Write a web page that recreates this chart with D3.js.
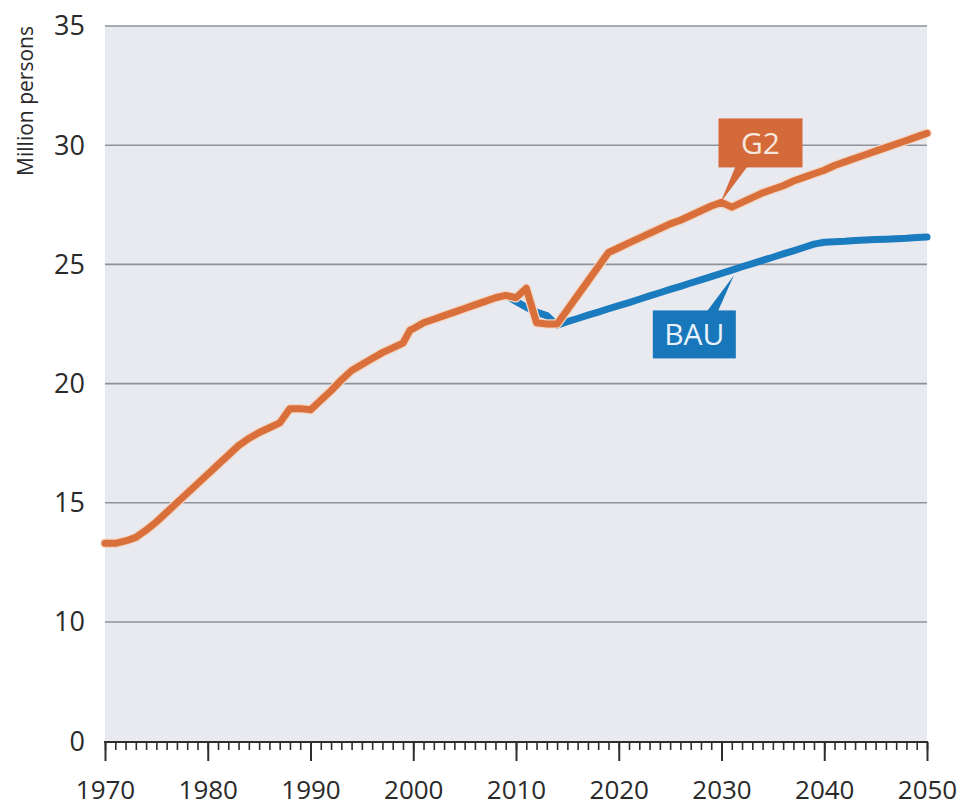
<!DOCTYPE html>
<html><head><meta charset="utf-8">
<script src="https://cdn.jsdelivr.net/npm/d3@7"></script>
<style>
html,body{margin:0;padding:0;background:#fff;}
svg{display:block;}
text{font-family:"Open Sans","Noto Sans",sans-serif;}
</style></head>
<body>
<svg id="chart" width="963" height="807"></svg>
<script>
// ---- data ----
const g2Years = [1970,1971,1972,1973,1974,1975,1976,1977,1978,1979,1980,1981,1982,1983,1984,1985,1986,1987,1988,1989,1990,1991,1992,1993,1994,1995,1996,1997,1998,1999,1999.7,2000,2001,2002,2003,2004,2005,2006,2007,2008,2009,2010,2011,2012,2013,2014,2015,2016,2017,2018,2019,2020,2021,2022,2023,2024,2025,2026,2027,2028,2029,2030,2031,2032,2033,2034,2035,2036,2037,2038,2039,2040,2041,2042,2043,2044,2045,2046,2047,2048,2049,2050];
const g2Values = [13.3,13.3,13.4,13.55,13.85,14.2,14.6,15.0,15.4,15.8,16.2,16.6,17.0,17.4,17.7,17.95,18.15,18.35,18.95,18.95,18.9,19.3,19.7,20.15,20.55,20.8,21.05,21.3,21.5,21.7,22.25,22.3,22.55,22.7,22.85,23.0,23.15,23.3,23.45,23.6,23.7,23.6,24.0,22.55,22.5,22.5,23.1,23.7,24.3,24.9,25.5,25.7,25.9,26.1,26.3,26.5,26.7,26.85,27.05,27.25,27.45,27.6,27.4,27.6,27.8,28.0,28.15,28.3,28.5,28.65,28.8,28.95,29.15,29.3,29.45,29.6,29.75,29.9,30.05,30.2,30.35,30.5];
const bauYears = [2009,2010,2011,2012,2013,2014,2015,2016,2017,2018,2019,2020,2021,2022,2023,2024,2025,2026,2027,2028,2029,2030,2031,2032,2033,2034,2035,2036,2037,2038,2039,2040,2041,2042,2043,2044,2045,2046,2047,2048,2049,2050];
const bauValues = [23.7,23.45,23.2,23.0,22.85,22.45,22.6,22.73,22.87,23.0,23.14,23.27,23.4,23.54,23.68,23.81,23.95,24.08,24.22,24.35,24.49,24.62,24.76,24.9,25.03,25.17,25.3,25.44,25.57,25.71,25.85,25.93,25.95,25.97,26.0,26.02,26.04,26.06,26.08,26.1,26.13,26.15];
const yTickValues = [0,10,15,20,25,30,35];
const yTickLabels = ["0","10","15","20","25","30","35"];
const xTickValues = [1970,1980,1990,2000,2010,2020,2030,2040,2050];
const xTickLabels = ["1970","1980","1990","2000","2010","2020","2030","2040","2050"];
const seriesNames = ["G2","BAU"];
const yTitle = "Million persons";
const g2LabelAt = 2030, bauLabelAt = 2031.2;

// ---- layout ----
const svg = d3.select("#chart");
const pLeft = 105, pRight = 927, pTop = 26, pBottom = 742;
const x = d3.scaleLinear().domain([1970, 2050]).range([pLeft, pRight]);
// truncated axis: 0 at baseline, 10..35 linear
const y = d3.scaleLinear().domain([0, 10, 35]).range([pBottom, 622, pTop]);

const orange = "#d96f3a", blue = "#1a7bbf";

svg.append("rect").attr("x", pLeft).attr("y", pTop).attr("width", pRight-pLeft).attr("height", pBottom-pTop).attr("fill", "#e8eaf0");

// gridlines
svg.append("g").selectAll("line").data(yTickValues.filter(v => v > 0)).join("line")
  .attr("x1", pLeft).attr("x2", pRight)
  .attr("y1", d => y(d)).attr("y2", d => y(d))
  .attr("stroke", "#8e929a").attr("stroke-width", 1.6);

// y labels
svg.append("g").selectAll("text").data(yTickValues).join("text")
  .attr("x", 85).attr("y", d => y(d)).attr("dy", "0.35em")
  .attr("text-anchor", "end").attr("font-size", 27).attr("fill", "#2a2a2a")
  .text((d, i) => yTickLabels[i]);

// y title
svg.append("text").attr("transform", "translate(33,101) rotate(-90)")
  .attr("text-anchor", "middle").attr("font-size", 21).attr("fill", "#2a2a2a").text(yTitle);

// x axis
const xAxisMinor = d3.axisBottom(x).tickValues(d3.range(1970, 2051, 1)).tickSize(8).tickFormat("");
const gMinor = svg.append("g").attr("transform", `translate(0,${pBottom})`).call(xAxisMinor);
gMinor.select(".domain").remove();
gMinor.selectAll("line").attr("stroke", "#2e2e2e").attr("stroke-width", 1.6);
const xAxisMajor = d3.axisBottom(x).tickValues(xTickValues).tickSize(19).tickPadding(20)
  .tickFormat((d, i) => xTickLabels[i]);
const gMajor = svg.append("g").attr("transform", `translate(0,${pBottom})`).call(xAxisMajor);
gMajor.select(".domain").remove();
gMajor.selectAll("line").attr("stroke", "#2e2e2e").attr("stroke-width", 2);
gMajor.selectAll("text").attr("font-size", 26).attr("fill", "#2a2a2a").attr("dy", "0.68em")
  .attr("font-family", "'Open Sans','Noto Sans',sans-serif");
svg.append("line").attr("x1", pLeft-1).attr("x2", pRight+1).attr("y1", pBottom).attr("y2", pBottom)
  .attr("stroke", "#2e2e2e").attr("stroke-width", 2.2);

// lines
const line = d3.line().x(d => x(d[0])).y(d => y(d[1])).curve(d3.curveLinear);
const bauData = bauYears.map((yr, i) => [yr, bauValues[i]]);
const g2Data = g2Years.map((yr, i) => [yr, g2Values[i]]);

svg.append("path").datum(bauData).attr("d", line).attr("fill", "none")
  .attr("stroke", blue).attr("stroke-width", 7).attr("stroke-linejoin", "round").attr("stroke-linecap", "round");
svg.append("path").datum(g2Data).attr("d", line).attr("fill", "none")
  .attr("stroke", "#f2d7c6").attr("stroke-width", 9.5).attr("stroke-linejoin", "round").attr("stroke-linecap", "round");
svg.append("path").datum(g2Data).attr("d", line).attr("fill", "none")
  .attr("stroke", orange).attr("stroke-width", 7).attr("stroke-linejoin", "round").attr("stroke-linecap", "round");

// callout labels
function callout(tipX, tipY, bx, by, bw, bh, p1, p2, color, textColor, label) {
  const g = svg.append("g");
  g.append("path").attr("d", `M${tipX},${tipY} L${p1[0]},${p1[1]} L${p2[0]},${p2[1]} Z`).attr("fill", color);
  g.append("rect").attr("x", bx).attr("y", by).attr("width", bw).attr("height", bh).attr("fill", color);
  g.append("text").attr("x", bx + bw/2).attr("y", by + bh/2).attr("dy", "0.36em")
    .attr("text-anchor", "middle").attr("font-size", 30).attr("fill", textColor).text(label);
}
const g2i = g2Years.indexOf(g2LabelAt);
const gx = x(g2LabelAt), gy = y(g2Values[g2i]);
callout(gx - 1, gy, gx - 3, gy - 84, 84, 49, [gx + 14, gy - 36], [gx + 26, gy - 36], "#d4693a", "#f6e8de", seriesNames[0]);

const bx = x(bauLabelAt), by = y(24.79) + 6;
callout(bx, by, bx - 81, by + 35, 83, 48, [bx - 27, by + 36], [bx - 16, by + 36], "#1877bb", "#e9f2fa", seriesNames[1]);
</script>
</body></html>
